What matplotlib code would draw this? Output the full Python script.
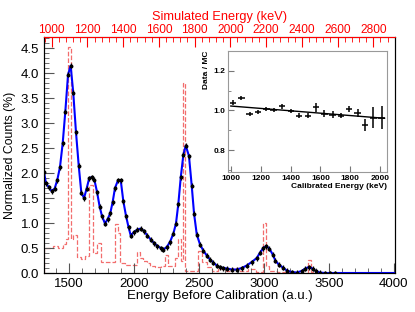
import numpy as np
import matplotlib.pyplot as plt
from matplotlib.ticker import MultipleLocator

plt.rcParams['font.family'] = ['Liberation Sans', 'DejaVu Sans']

# Data points (energy before calibration, a.u.) and normalized counts (%)
data_x = [1310, 1325, 1346, 1369, 1392, 1412, 1433, 1454, 1474, 1495, 1515, 1535,
          1556, 1577, 1597, 1618, 1638, 1658, 1679, 1697, 1718, 1738, 1756, 1779,
          1800, 1820, 1838, 1856, 1880, 1900, 1920, 1941, 1960, 1977, 2002, 2028,
          2054, 2079, 2105, 2131, 2156, 2182, 2208, 2228, 2254, 2279, 2305, 2325,
          2343, 2362, 2382, 2400, 2425, 2446, 2464, 2485, 2510, 2535, 2562, 2587,
          2612, 2638, 2660, 2690, 2720, 2754, 2792, 2831, 2869, 2908, 2946, 2972,
          2997, 3018, 3043, 3069, 3089, 3115, 3146, 3177, 3215, 3254, 3292, 3320,
          3348, 3375, 3400, 3431, 3470, 3510, 3550]
data_y = [2.02, 1.80, 1.72, 1.64, 1.69, 1.86, 2.12, 2.60, 3.23, 3.97, 4.15, 3.61,
          2.82, 2.15, 1.61, 1.50, 1.69, 1.90, 1.92, 1.87, 1.62, 1.33, 1.14, 0.99,
          1.08, 1.20, 1.42, 1.70, 1.86, 1.86, 1.44, 1.14, 0.92, 0.75, 0.82, 0.87,
          0.89, 0.84, 0.75, 0.67, 0.60, 0.54, 0.50, 0.47, 0.52, 0.62, 0.79, 0.99,
          1.38, 1.92, 2.37, 2.55, 2.34, 1.75, 1.19, 0.77, 0.57, 0.45, 0.35, 0.27,
          0.21, 0.15, 0.12, 0.10, 0.09, 0.07, 0.07, 0.10, 0.15, 0.22, 0.30, 0.41,
          0.50, 0.54, 0.49, 0.37, 0.25, 0.17, 0.11, 0.05, 0.02, 0.01, 0.04, 0.09,
          0.12, 0.09, 0.04, 0.01, 0.00, 0.00, 0.00]
fit_tail_x = [3600, 3800, 4010]
fit_tail_y = [0.0, 0.0, 0.0]

# Simulated spectrum (dashed red histogram)
sim_edges = [1310, 1382, 1420, 1458, 1480, 1497, 1518, 1535, 1566, 1592, 1625, 1658,
             1685, 1720, 1746, 1779, 1856, 1880, 1895, 1933, 2025, 2048, 2072, 2100,
             2125, 2164, 2210, 2241, 2264, 2318, 2341, 2362, 2379, 2398, 2418, 2495,
             2525, 2562, 2600, 2650, 2700, 2760, 2820, 2880, 2940, 2992, 3018, 3040,
             3100, 3200, 3340, 3364, 3400]
sim_vals = [0.50, 0.55, 0.50, 0.58, 0.69, 4.52, 0.68, 0.77, 0.32, 0.29, 0.35, 1.77,
            0.40, 0.61, 0.23, 0.22, 0.99, 0.80, 0.20, 0.17, 0.42, 0.30, 0.25, 0.20,
            0.15, 0.12, 0.15, 0.36, 0.15, 0.30, 0.68, 0.25, 3.80, 0.05, 0.05, 0.45,
            0.22, 0.12, 0.05, 0.08, 0.04, 0.10, 0.05, 0.08, 0.03, 1.01, 0.15, 0.05,
            0.02, 0.01, 0.26, 0.02]

# Inset: data / MC ratio vs calibrated energy
ratio_x = [1016, 1071, 1127, 1182, 1238, 1287, 1344, 1402, 1456, 1516, 1571, 1627,
           1682, 1738, 1793, 1849, 1900, 1956, 2011]
ratio_y = [1.038, 1.061, 0.982, 0.992, 1.007, 1.002, 1.021, 0.998, 0.974, 0.974,
           1.015, 0.983, 0.979, 0.974, 1.008, 0.987, 0.926, 0.964, 0.964]
ratio_err = [0.012, 0.010, 0.010, 0.012, 0.010, 0.010, 0.012, 0.010, 0.014, 0.014,
             0.022, 0.018, 0.016, 0.012, 0.016, 0.020, 0.030, 0.052, 0.056]
fit_p0 = 1.082
fit_p1 = -6.0e-5

fig = plt.figure(figsize=(4.15, 3.12), dpi=100)
ax = fig.add_axes([0.106, 0.125, 0.846, 0.756])

ax.stairs(sim_vals, sim_edges, color='#f26d6d', ls='--', lw=0.9)
ax.plot(data_x + fit_tail_x, data_y + fit_tail_y, color='#0000ff', lw=1.5)
ax.errorbar(data_x, data_y, yerr=0.05, xerr=8, fmt='o', ms=1.8, color='black',
            elinewidth=0.9, capsize=0)

ax.set_xlim(1310, 4010)
ax.set_ylim(0, 4.72)
ax.xaxis.set_major_locator(MultipleLocator(500))
ax.xaxis.set_minor_locator(MultipleLocator(100))
ax.yaxis.set_major_locator(MultipleLocator(0.5))
ax.yaxis.set_minor_locator(MultipleLocator(0.1))
ax.yaxis.set_major_formatter(plt.FuncFormatter(lambda v, p: f'{v:.1f}'))
ax.tick_params(which='both', direction='in', labelsize=9.5, color='#555555')
ax.tick_params(which='major', length=7)
ax.tick_params(which='minor', length=3.5)
ax.set_xlabel('Energy Before Calibration (a.u.)', fontsize=9.5, labelpad=0)
ax.set_ylabel('Normalized Counts (%)', fontsize=8.8, labelpad=3)

# top axis in simulated energy
top = ax.twiny()
top.set_xlim(957, 2922)
top.xaxis.set_major_locator(MultipleLocator(200))
top.xaxis.set_minor_locator(MultipleLocator(40))
top.tick_params(which='both', direction='in', colors='red', labelsize=8.6, pad=1)
top.tick_params(which='major', length=7)
top.tick_params(which='minor', length=3.5)
top.spines['top'].set_color('red')
top.set_xlabel('Simulated Energy (keV)', color='red', fontsize=9.2, labelpad=3)

# inset
ins = fig.add_axes([0.549, 0.449, 0.383, 0.388])
ins.errorbar(ratio_x, ratio_y, yerr=ratio_err, xerr=22, fmt='none', color='black',
             elinewidth=1.1, capsize=0)
ex = np.array([1000, 2030])
ins.plot(ex, fit_p0 + fit_p1 * ex, color='black', lw=1.0)
ins.set_xlim(980, 2045)
ins.set_ylim(0.69, 1.30)
ins.xaxis.set_major_locator(MultipleLocator(200))
ins.yaxis.set_major_locator(MultipleLocator(0.2))
ins.yaxis.set_minor_locator(MultipleLocator(0.1))
ins.tick_params(which='both', direction='in', labelsize=6, pad=2, color='#777777')
ins.tick_params(which='major', length=4)
ins.tick_params(which='minor', length=2)
for lab in ins.get_xticklabels() + ins.get_yticklabels():
    lab.set_fontweight('bold')
for s in ins.spines.values():
    s.set_color('#999999')
ins.set_xlabel('Calibrated Energy (keV)', fontsize=6, fontweight='bold', labelpad=1, ha='right', x=1.0)
ins.set_ylabel('Data / MC', fontsize=6, fontweight='bold', labelpad=2, ha='right', y=1.0)

fig.savefig('out.png', dpi=100)
